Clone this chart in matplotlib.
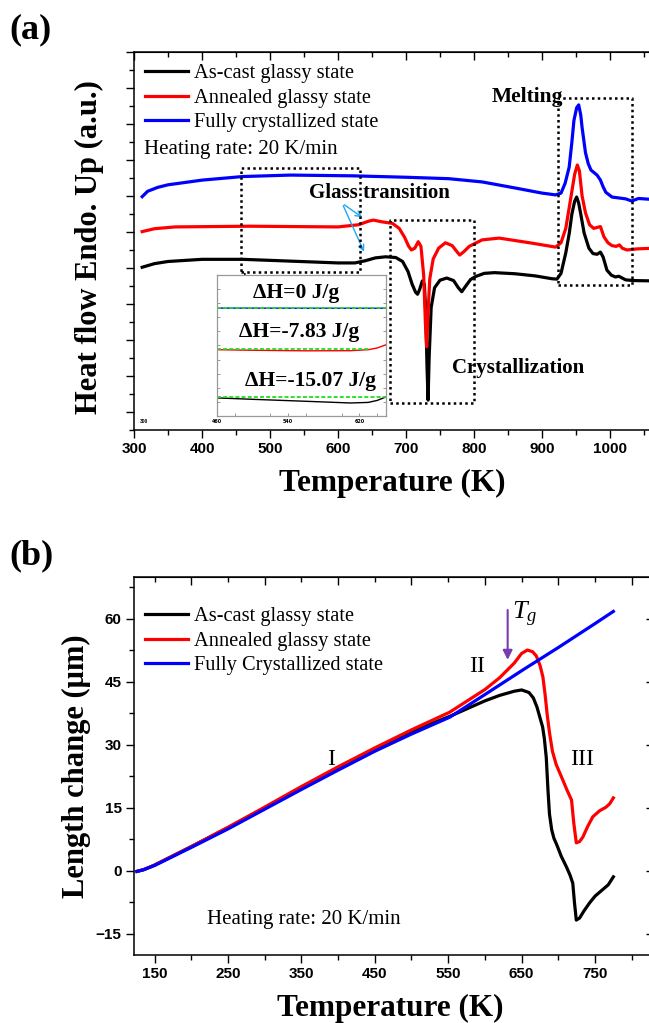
import numpy as np
import matplotlib
matplotlib.use("Agg")
import matplotlib.pyplot as plt
from matplotlib.ticker import MultipleLocator

SERIF = "Liberation Serif"
SANS = "Liberation Sans"
plt.rcParams["mathtext.fontset"] = "custom"
plt.rcParams["mathtext.rm"] = "Liberation Serif"
plt.rcParams["mathtext.it"] = "Liberation Serif:italic"

# ---------------- panel (a): DSC ----------------
dsc_black_T = [312, 330, 350, 400, 460, 530, 600, 625, 640, 655, 670, 685, 695, 703, 709, 714, 717, 720, 724,
               727, 729, 731, 732.5, 734, 737, 742, 750, 760, 770, 777, 782, 788, 795, 802, 815, 830, 860, 890,
               915, 922, 928, 935, 940, 944, 948, 951, 954, 957, 962, 969, 975, 981, 986, 990, 995.5, 1002, 1008,
               1013, 1018, 1023, 1035, 1065]
dsc_black_y = [4.02, 4.12, 4.18, 4.24, 4.24, 4.19, 4.14, 4.14, 4.2, 4.28, 4.31, 4.29, 4.18, 3.9, 3.55, 3.33,
               3.27, 3.4, 3.64, 3.55, 2.8, 1.2, 0.33, 1.5, 2.9, 3.45, 3.66, 3.72, 3.65, 3.45, 3.34, 3.5, 3.68,
               3.76, 3.85, 3.87, 3.84, 3.78, 3.7, 3.69, 3.85, 4.42, 4.95, 5.5, 5.85, 5.97, 5.8, 5.5, 4.97, 4.55,
               4.4, 4.38, 4.44, 4.3, 3.94, 3.8, 3.75, 3.77, 3.72, 3.67, 3.65, 3.64]

dsc_red_T = [312, 330, 360, 470, 600, 630, 645, 652, 665, 680, 690, 698, 704, 708, 713, 718, 722, 726, 728.5,
             730.4, 732, 735, 740, 748, 758, 768, 775, 779, 785, 793, 812, 837, 885, 920, 928, 935, 942, 948,
             952, 955, 959, 964, 970, 976, 986, 991, 997, 1003, 1009, 1014, 1018, 1025, 1040, 1065]
dsc_red_y = [5.01, 5.09, 5.14, 5.16, 5.14, 5.2, 5.3, 5.33, 5.28, 5.24, 5.1, 4.85, 4.6, 4.5, 4.55, 4.73, 4.6,
             3.8, 2.5, 1.81, 2.6, 3.7, 4.25, 4.55, 4.7, 4.62, 4.45, 4.36, 4.45, 4.6, 4.78, 4.83, 4.69, 4.58,
             4.7, 5.1, 5.9, 6.6, 6.86, 6.7, 6.0, 5.53, 5.2, 5.1, 5.15, 4.87, 4.7, 4.62, 4.6, 4.64, 4.55, 4.5,
             4.53, 4.55]

dsc_blue_T = [312, 320, 335, 350, 400, 460, 530, 620, 700, 763, 812, 861, 900, 920, 928, 934, 940, 944, 947,
              951, 954, 957, 959, 964, 968, 972, 981, 986, 990, 994, 1003, 1023, 1032, 1042, 1065]
dsc_blue_y = [5.98, 6.13, 6.24, 6.31, 6.44, 6.54, 6.58, 6.56, 6.52, 6.48, 6.39, 6.22, 6.08, 6.03, 6.08, 6.35,
              6.8, 7.5, 8.1, 8.45, 8.53, 8.25, 7.9, 7.2, 6.9, 6.72, 6.58, 6.44, 6.25, 6.1, 5.97, 5.92, 5.86,
              5.93, 5.9]

# inset (enthalpy baselines)
ins_T = [460, 500, 560, 610, 630, 640, 650]
ins_blue = [0.765, 0.765, 0.764, 0.764, 0.764, 0.764, 0.765]
ins_red = [0.470, 0.466, 0.462, 0.463, 0.470, 0.482, 0.505]
ins_black = [0.128, 0.118, 0.104, 0.092, 0.096, 0.110, 0.135]
ins_green = [0.768, 0.476, 0.132]
ins_green_end = [650, 632, 650]
ins_labels = ["ΔH=0 J/g", "ΔH=-7.83 J/g", "ΔH=-15.07 J/g"]
ins_label_T = [549, 552, 565]
ins_label_y = [0.87, 0.594, 0.25]

labels_a = ["As-cast glassy state", "Annealed glassy state", "Fully crystallized state"]

# ---------------- panel (b): dilatometry ----------------
dil_blue_T = [126, 135, 150, 200, 250, 300, 350, 400, 450, 500, 552, 600, 652, 700, 750, 775]
dil_blue_y = [-0.1, 0.3, 1.3, 5.6, 10.0, 14.7, 19.4, 24.0, 28.5, 32.6, 36.6, 42.0, 47.9, 53.2, 58.9, 61.8]

dil_red_T = [126, 135, 150, 200, 250, 300, 350, 400, 450, 500, 552, 600, 620, 640, 650, 658, 665, 670,
             675, 679, 682, 685, 688, 692, 697, 706, 712, 718, 721, 724.5, 729, 733.5, 740, 747, 756, 765,
             770, 775]
dil_red_y = [-0.1, 0.3, 1.4, 5.8, 10.4, 15.2, 20.1, 24.8, 29.3, 33.6, 37.8, 43.2, 46.0, 49.5, 51.8, 52.6,
             52.2, 51.2, 49.0, 46.2, 42.0, 37.0, 32.9, 28.5, 25.4, 21.7, 19.2, 16.9, 11.5, 6.7, 7.0, 8.1,
             10.6, 12.9, 14.3, 15.2, 16.0, 17.4]

dil_black_T = [126, 135, 150, 200, 250, 300, 350, 400, 450, 500, 552, 600, 620, 640, 650, 660, 666, 671,
               675, 678.6, 681, 683.6, 686, 688, 691, 694, 698, 704, 711, 716, 719.7, 722, 724.5, 729, 735,
               742.6, 750, 760, 768, 775]
dil_black_y = [-0.1, 0.3, 1.4, 5.8, 10.3, 15.0, 19.9, 24.6, 29.0, 33.2, 36.8, 40.5, 41.8, 42.8, 43.1, 42.5,
               41.2, 39.0, 36.5, 34.3, 31.5, 27.0, 19.0, 13.5, 9.8, 7.8, 6.2, 3.5, 1.0, -1.0, -2.9, -7.5, -11.7,
               -11.2, -9.5, -7.6, -6.0, -4.5, -3.3, -1.4]

labels_b = ["As-cast glassy state", "Annealed glassy state", "Fully Crystallized state"]

colors = ["#000000", "#ff0000", "#0000ff"]
lw = 2.3

fig = plt.figure(figsize=(6.49, 10.23), dpi=100)


def style_axes(ax, xmaj, xmin, ymaj, ymin, ylabels=True):
    ax.xaxis.set_major_locator(MultipleLocator(xmaj))
    ax.xaxis.set_minor_locator(MultipleLocator(xmin))
    ax.yaxis.set_major_locator(MultipleLocator(ymaj))
    ax.yaxis.set_minor_locator(MultipleLocator(ymin))
    ax.tick_params(which="both", direction="out", width=1.0, top=False, right=False)
    ax.tick_params(which="major", length=6)
    ax.tick_params(which="minor", length=3.5)
    ax.tick_params(axis="both", labelsize=11, pad=3)
    if not ylabels:
        ax.tick_params(axis="y", labelleft=False)
    for s in ax.spines.values():
        s.set_linewidth(1.1)
    # mirrored inward ticks on top / right
    top = ax.secondary_xaxis("top")
    top.xaxis.set_major_locator(MultipleLocator(xmaj))
    top.xaxis.set_minor_locator(MultipleLocator(xmin))
    top.tick_params(which="both", direction="in", labeltop=False, width=1.0)
    top.tick_params(which="major", length=6)
    top.tick_params(which="minor", length=3.5)
    right = ax.secondary_yaxis("right")
    right.yaxis.set_major_locator(MultipleLocator(ymaj))
    right.yaxis.set_minor_locator(MultipleLocator(ymin))
    right.tick_params(which="both", direction="in", labelright=False, width=1.0)
    right.tick_params(which="major", length=6)
    right.tick_params(which="minor", length=3.5)


def bold_ticklabels(ax):
    for lab in ax.get_xticklabels() + ax.get_yticklabels():
        lab.set_fontfamily(SANS)
        lab.set_fontweight("bold")


def dotted_box(ax, x0, x1, y0, y1):
    ax.plot([x0, x1, x1, x0, x0], [y0, y0, y1, y1, y0], color="black", lw=1.8,
            linestyle=(0, (1, 1.3)), zorder=4)


# ---------- (a) ----------
axa = fig.add_axes([0.2065, 0.5797, 0.8067, 0.3695])
axa.plot(dsc_black_T, dsc_black_y, color=colors[0], lw=lw, label=labels_a[0], zorder=3)
axa.plot(dsc_red_T, dsc_red_y, color=colors[1], lw=lw, label=labels_a[1], zorder=3)
axa.plot(dsc_blue_T, dsc_blue_y, color=colors[2], lw=lw, label=labels_a[2], zorder=3)
axa.set_xlim(300, 1070)
axa.set_ylim(-0.5, 10)
style_axes(axa, 100, 50, 1, 0.5, ylabels=False)
bold_ticklabels(axa)
axa.set_xlabel("Temperature (K)", fontfamily=SERIF, fontweight="bold", fontsize=22.5)
axa.set_ylabel("Heat flow Endo. Up (a.u.)", fontfamily=SERIF, fontweight="bold", fontsize=22)
axa.xaxis.set_label_coords(0.493, -0.102)
axa.yaxis.set_label_coords(-0.058, 0.485)

axa.legend(loc="upper left", bbox_to_anchor=(-0.006, 1.006), frameon=False,
           prop={"family": SERIF, "size": 14.7}, handlelength=2.1, handletextpad=0.3,
           labelspacing=0.25, borderpad=0.2)
axa.text(315, 7.3, "Heating rate: 20 K/min", fontfamily=SERIF, fontsize=15, va="center", ha="left")

dotted_box(axa, 457, 633, 3.9, 6.79)
dotted_box(axa, 677, 800.5, 0.24, 5.33)
dotted_box(axa, 924, 1032, 3.53, 8.73)
axa.text(879, 8.74, "Melting", fontfamily=SERIF, fontweight="bold", fontsize=15.5, ha="center", va="center")
axa.text(661, 6.07, "Glass transition", fontfamily=SERIF, fontweight="bold", fontsize=15,
         ha="center", va="center", zorder=5)
axa.text(865, 1.21, "Crystallization", fontfamily=SERIF, fontweight="bold", fontsize=15,
         ha="center", va="center", zorder=5)
for tip in [(639, 5.36), (640, 4.38)]:
    axa.annotate("", xy=tip, xytext=(606, 5.8),
                 arrowprops=dict(arrowstyle="->", color="#22a6ee", lw=1.0, mutation_scale=10))
axa.annotate("", xy=(463, 3.45), xytext=(463, 3.92),
             arrowprops=dict(arrowstyle="-|>", color="black", lw=1.2, mutation_scale=9))
axa.text(314, -0.27, "300", fontsize=3.5, fontfamily=SANS, fontweight="bold", ha="center", va="center")

# inset
axi = fig.add_axes([0.3344, 0.5934, 0.2604, 0.1378])
axi.plot(ins_T, ins_blue, color=colors[2], lw=1.0)
axi.plot(ins_T, ins_red, color=colors[1], lw=1.0)
axi.plot(ins_T, ins_black, color=colors[0], lw=1.0)
for gy, ge in zip(ins_green, ins_green_end):
    axi.plot([460, ge], [gy, gy], color="#22dd22", lw=1.3, linestyle=(0, (2.2, 1.2)))
for txt, tx, ty in zip(ins_labels, ins_label_T, ins_label_y):
    axi.text(tx, ty, txt, fontfamily=SERIF, fontweight="bold", fontsize=15.5, ha="center", va="center")
axi.set_xlim(460, 650)
axi.set_ylim(0, 1)
axi.set_xticks([460, 540, 620])
axi.xaxis.set_minor_locator(MultipleLocator(40))
axi.yaxis.set_major_locator(MultipleLocator(0.1))
axi.tick_params(which="both", direction="in", length=2, width=0.6, colors="#888888",
                labelsize=3.5, labelcolor="black", left=True, right=True, labelleft=False, pad=2)
for lab in axi.get_xticklabels():
    lab.set_fontweight("bold")
for s in axi.spines.values():
    s.set_color("#999999")
    s.set_linewidth(0.9)

# ---------- (b) ----------
axb = fig.add_axes([0.2065, 0.0665, 0.8008, 0.3695])
axb.plot(dil_black_T, dil_black_y, color=colors[0], lw=lw, label=labels_b[0], zorder=3)
axb.plot(dil_red_T, dil_red_y, color=colors[1], lw=lw, label=labels_b[1], zorder=3)
axb.plot(dil_blue_T, dil_blue_y, color=colors[2], lw=lw, label=labels_b[2], zorder=3)
style_axes(axb, 100, 50, 15, 7.5)
axb.set_xticks([150, 250, 350, 450, 550, 650, 750])
axb.set_xlim(122, 830)
axb.set_ylim(-20, 70)
bold_ticklabels(axb)
axb.set_xlabel("Temperature (K)", fontfamily=SERIF, fontweight="bold", fontsize=22.5)
axb.set_ylabel("Length change (\u03bcm)", fontfamily=SERIF, fontweight="bold", fontsize=22)
axb.xaxis.set_label_coords(0.493, -0.102)
axb.yaxis.set_label_coords(-0.083, 0.5)

axb.legend(loc="upper left", bbox_to_anchor=(-0.006, 0.958), frameon=False,
           prop={"family": SERIF, "size": 14.7}, handlelength=2.1, handletextpad=0.3,
           labelspacing=0.25, borderpad=0.2)
axb.text(222, -11.6, "Heating rate: 20 K/min", fontfamily=SERIF, fontsize=15, va="center", ha="left")
axb.text(390, 26.5, "I", fontfamily=SERIF, fontsize=17, ha="center", va="center")
axb.text(590, 48.7, "II", fontfamily=SERIF, fontsize=17, ha="center", va="center")
axb.text(733, 26.5, "III", fontfamily=SERIF, fontsize=17, ha="center", va="center")
axb.text(637, 61, "$T_g$", fontsize=19, ha="left", va="center")
axb.annotate("", xy=(631, 49.6), xytext=(631, 62.8),
             arrowprops=dict(arrowstyle="-|>", color="#7a3bb0", lw=1.5, mutation_scale=14))

fig.text(0.014, 0.971, "(a)", fontfamily=SERIF, fontweight="bold", fontsize=26, va="center")
fig.text(0.014, 0.457, "(b)", fontfamily=SERIF, fontweight="bold", fontsize=26, va="center")

fig.savefig("out.png", dpi=100)
